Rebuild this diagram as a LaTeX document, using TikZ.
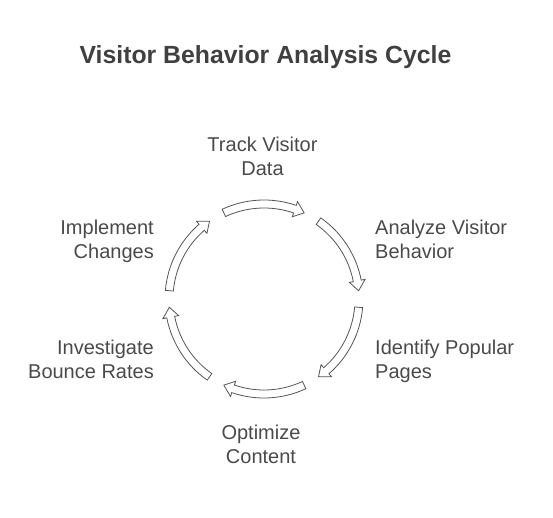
\documentclass[tikz,border=0pt]{standalone}
\usepackage{fontspec}
\setmainfont{Liberation Sans}
\begin{document}
\begin{tikzpicture}[x=1pt,y=1pt,
  lbl/.style={inner sep=0pt, text=txtgray, font=\fontsize{20}{24}\selectfont},
  arr/.style={draw=arrgray, fill=white, line width=0.8pt, line join=miter}]
\definecolor{txtgray}{HTML}{4A4A4A}
\definecolor{arrgray}{HTML}{555555}
\definecolor{titlegray}{HTML}{404040}
\useasboundingbox[fill=white] (0,0) rectangle (553,517);
\node[inner sep=0pt, anchor=north, text=titlegray, font=\bfseries\fontsize{24.8}{29}\selectfont] (title) at (265.5,472) {Visitor Behavior Analysis Cycle};
\node[lbl, anchor=north, align=center] (track) at (262.5,380) {Track Visitor\\Data};
\node[lbl, anchor=north west, align=left] (analyze) at (375,297) {Analyze Visitor\\Behavior};
\node[lbl, anchor=north west, align=left] (identify) at (375,177) {Identify Popular\\Pages};
\node[lbl, anchor=north, align=center] (optimize) at (261,92) {Optimize\\Content};
\node[lbl, anchor=north east, align=right] (investigate) at (154,177) {Investigate\\Bounce Rates};
\node[lbl, anchor=north east, align=right] (implement) at (154,297) {Implement\\Changes};
\begin{scope}[shift={(264,218)}]
\foreach \t in {90,30,-30,-90,-150,-210}{
  \pgfmathsetmacro\aS{\t+25}
  \pgfmathsetmacro\aE{\t-25}
  \pgfmathsetmacro\aH{\t-19}
  \draw[arr] (\aS:99) arc[start angle=\aS, end angle=\aH, radius=99] -- (\aH:103) -- (\aE:95) -- (\aH:87) -- (\aH:91) arc[start angle=\aH, end angle=\aS, radius=91] -- cycle;
}
\end{scope}
\end{tikzpicture}
\end{document}
